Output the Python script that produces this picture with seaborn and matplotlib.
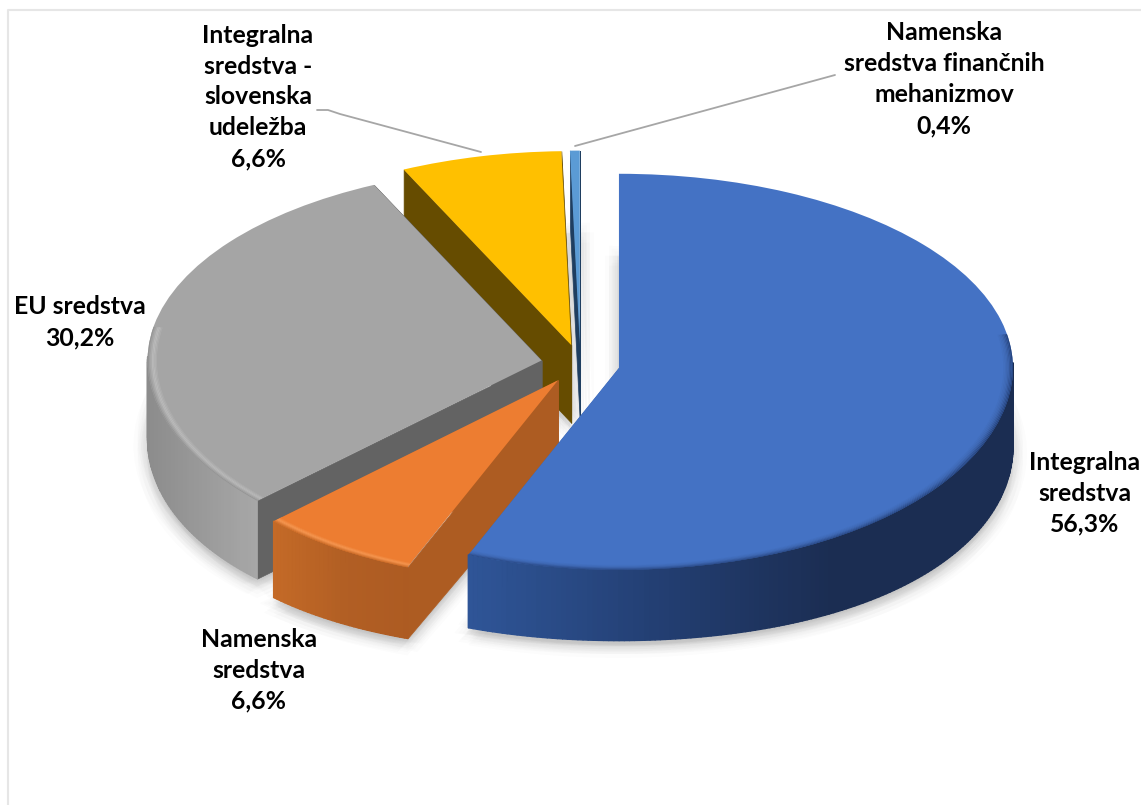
import numpy as np
import matplotlib
matplotlib.use('Agg')
import matplotlib.pyplot as plt
import seaborn as sns
from matplotlib.collections import PolyCollection
from matplotlib.lines import Line2D
from matplotlib.patches import Wedge

# Shares in percent, in the order they go round the pie
names = ['Integralna\nsredstva', 'Namenska\nsredstva', 'EU sredstva',
         'Integralna\nsredstva -\nslovenska\nudeležba',
         'Namenska\nsredstva finančnih\nmehanizmov']
values = [56.3, 6.6, 30.2, 6.6, 0.4]

top_colors = ['#4472c4', '#ed7d31', '#a5a5a5', '#ffc000', '#5b9bd5']
cut_colors = ['#1f3864', '#ad5c22', '#636363', '#664c00', '#1f3e60']
wall_stops = [['#2f5597', '#233f73', '#1b2d52', '#1b2d52'],
              ['#c46a27', '#b25f24', '#ad5b22'],
              ['#8c8c8c', '#9a9a9a', '#a8a8a8'],
              ['#7f6000', '#7f6000'],
              ['#2f5f8f', '#2f5f8f']]
bevel_stops = [['#27457f', '#3d66b0', '#4472c4'],
               ['#c96d2a', '#f89c58', '#ed7d31'],
               ['#959595', '#bebebe', '#a5a5a5'],
               None, None]
draw_order = [3, 4, 2, 1, 0]

label_x = [1085, 259, 80, 258, 944]
label_y = [493, 670, 322, 97, 79]

W, H = 1141, 805
CX, CY = 580.3, 364.0     # pie centre in pixels
RX, RY = 394.0, 194.0     # pixels per unit radius
DEPTH = 76 / RY
BULGE = 16.0              # front of the pie sits closer to the viewer, pixels


def forward(y):
    # stretches the front half a little, as the perspective in the original does
    y = np.asarray(y, dtype=float)
    u = np.clip(-y, 0, 1.5)
    return y - BULGE * u ** 2 * (1.5 - u) / RY


_grid = np.linspace(-6, 6, 6001)


def inverse(y):
    return np.interp(y, forward(_grid), _grid)


sns.set_theme(style='white')
plt.rcParams['font.family'] = ['Lato', 'DejaVu Sans']

fig = plt.figure(figsize=(W / 100, H / 100), dpi=100, facecolor='white')
ax = fig.add_axes([0, 0, 1, 1])

wedges, _ = ax.pie(values, colors=top_colors, startangle=90, counterclock=False,
                   explode=[0.10] * 5, wedgeprops={'linewidth': 0})
ax.set_aspect('auto')
ax.set_yscale('function', functions=(forward, inverse))
ax.set_xlim(-CX / RX, (W - CX) / RX)
ax.set_ylim((CY - H) / RY, CY / RY)
ax.axis('off')


def arc_xy(w, deg, dz=0.0):
    a = np.radians(deg)
    return (w.center[0] + w.r * np.cos(a), w.center[1] + w.r * np.sin(a) - dz)


for rank, i in enumerate(draw_order):
    w = wedges[i]
    base = 10 + rank * 10
    cx, cy = w.center

    # soft floor shadow, made from many faint offset copies
    for rad in np.linspace(2, 14, 4):
        for a in np.radians(np.arange(0, 360, 45)):
            ax.add_patch(Wedge((cx + rad * np.cos(a) / RX,
                                cy - DEPTH - 6 / RY + rad * np.sin(a) / RY),
                               w.r, w.theta1, w.theta2, color='#7a7a7a',
                               alpha=0.02, linewidth=0, zorder=1))

    # straight cut faces
    for edge in (w.theta1, w.theta2):
        ox, oy = arc_xy(w, edge)
        quad = [(cx, cy), (ox, oy), (ox, oy - DEPTH), (cx, cy - DEPTH)]
        ax.add_collection(PolyCollection([quad], facecolors=cut_colors[i],
                                         edgecolors=cut_colors[i], linewidths=0.5,
                                         zorder=base))

    # outer wall on the front side only, in short steps to carry the gradient
    steps = np.arange(w.theta1, w.theta2 + 0.75, 0.75).clip(max=w.theta2)
    steps = steps[np.sin(np.radians(steps)) < 0.03]
    if len(steps) > 1:
        palette = sns.blend_palette(wall_stops[i], n_colors=128)
        xs = [arc_xy(w, s)[0] for s in steps]
        x0, x1 = min(xs), max(xs)
        polys, cols = [], []
        for s0, s1 in zip(steps[:-1], steps[1:]):
            p0, p1 = arc_xy(w, s0), arc_xy(w, s1)
            polys.append([p0, p1, arc_xy(w, s1, DEPTH), arc_xy(w, s0, DEPTH)])
            frac = (p0[0] - x0) / max(x1 - x0, 1e-6)
            cols.append(palette[int(np.clip(frac, 0, 1) * 127)])
        ax.add_collection(PolyCollection(polys, facecolors=cols, edgecolors=cols,
                                         linewidths=1.0, zorder=base + 1))

    w.set_zorder(base + 2)

    # bevel along the front rim of the top face
    if bevel_stops[i]:
        t0, t1 = max(w.theta1, -190), min(w.theta2, 10)
        rings = sns.blend_palette(bevel_stops[i], n_colors=8)
        for k, col in enumerate(rings):
            ax.add_patch(Wedge((cx, cy), w.r - k * 0.0035, t0, t1, width=0.0035,
                               color=col, linewidth=0, zorder=base + 3))

# labels
for name, val, lx, ly in zip(names, values, label_x, label_y):
    txt = f'{name}\n{val:.1f}%'.replace('.', ',')
    fig.text(lx / W, 1 - ly / H, txt, ha='center', va='center', fontsize=17.8,
             fontweight='bold', color='black', linespacing=1.42, zorder=100)

# leader lines and chart frame, in figure fractions
leaders = [([317, 328, 340, 481], [110, 110, 114, 152]), ([835, 575], [75, 146])]
for xs, ys in leaders:
    fig.add_artist(Line2D(np.array(xs) / W, 1 - np.array(ys) / H, color='#a6a6a6', lw=1.3))
fig.add_artist(Line2D([8 / W, 8 / W, 1], [0, 1 - 10 / H, 1 - 10 / H], color='#e6e6e6', lw=1.5))

fig.savefig('out.png', dpi=100, facecolor='white')
